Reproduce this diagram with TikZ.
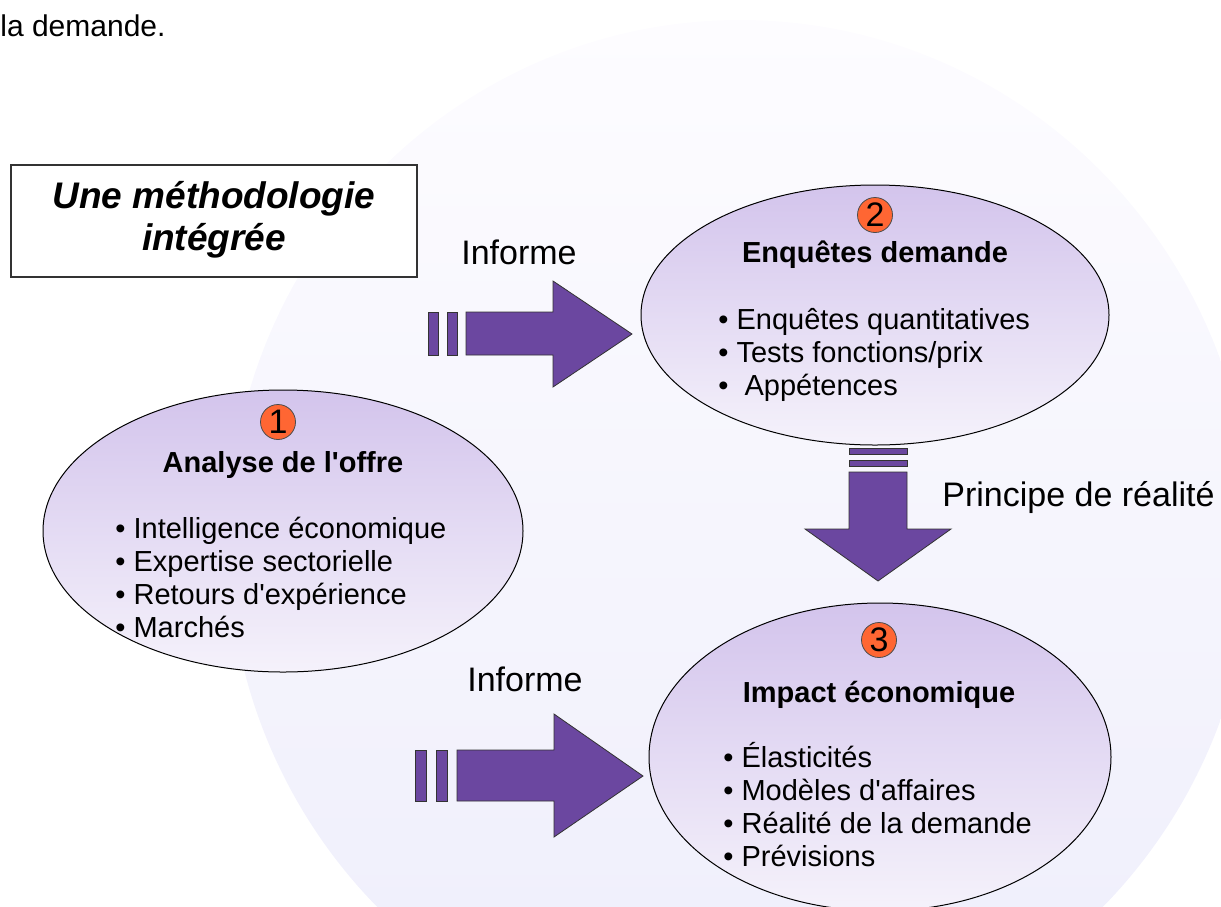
\documentclass[tikz,border=0pt]{standalone}
\usepackage{fontspec}
\setmainfont{Liberation Sans}
\usetikzlibrary{shapes,arrows,calc,positioning,backgrounds}

\definecolor{fleche}{RGB}{107,71,160}
\definecolor{orangenum}{RGB}{255,102,51}
\definecolor{mauve}{RGB}{211,196,236}
\definecolor{mauveclair}{RGB}{245,242,251}
\definecolor{fondhaut}{RGB}{253,252,255}
\definecolor{fondbas}{RGB}{238,238,251}

\begin{document}
\begin{tikzpicture}[x=0.5pt, y=-0.5pt,
  bulle/.style={ellipse, draw=black, line width=0.5pt, top color=mauve, bottom color=mauveclair, inner sep=0pt},
  rond/.style={circle, draw=black!70, fill=orangenum, minimum size=17.5pt, inner sep=0pt, font=\fontsize{17}{17}\selectfont},
  entete/.style={anchor=base, inner sep=0pt, font=\fontsize{14.5}{16.5}\selectfont\bfseries},
  puce/.style={anchor=base west, inner sep=0pt, font=\fontsize{14.5}{16.5}\selectfont},
  grand/.style={anchor=base, inner sep=0pt, font=\fontsize{17}{20}\selectfont},
  bloc/.style={fill=fleche, draw=black!80, line width=0.4pt}]

  \useasboundingbox (0,0) rectangle (1221,906);
  \clip (0,0) rectangle (1221,906);

  % fond
  \shade[top color=fondhaut, bottom color=fondbas, draw=none] (740,540) ellipse [x radius=512, y radius=520];
  \node[anchor=base west, inner sep=0pt, font=\fontsize{15}{18}\selectfont] (suite) at (0,36) {la demande.};

  % cadre
  \node[draw=black!80, line width=0.6pt, fill=white, minimum width=203pt, minimum height=56pt, inner sep=0pt] (cadre) at (214,221) {};
  \node[anchor=base, inner sep=0pt, font=\fontsize{18.5}{21}\selectfont\bfseries\itshape] (titre1) at (214,208) {Une méthodologie};
  \node[anchor=base, inner sep=0pt, font=\fontsize{18.5}{21}\selectfont\bfseries\itshape] (titre2) at (214,250) {intégrée};

  % fleches
  \draw[bloc] (428,312) rectangle (438,355);
  \draw[bloc] (447,312) rectangle (457,355);
  \draw[bloc] (466,312) -- (553,312) -- (553,281) -- (632,334) -- (553,387) -- (553,355) -- (466,355) -- cycle;
  \node[grand] (inf1) at (519,264) {Informe};

  \draw[bloc] (415,750) rectangle (426,801);
  \draw[bloc] (436,750) rectangle (447,801);
  \draw[bloc] (457,750) -- (554,750) -- (554,714) -- (643,776) -- (554,837) -- (554,801) -- (457,801) -- cycle;
  \node[grand] (inf2) at (525,691) {Informe};

  \draw[bloc] (849,448) rectangle (907,454);
  \draw[bloc] (849,460) rectangle (907,466);
  \draw[bloc] (849,472) -- (849,529) -- (805,529) -- (878,581) -- (951,529) -- (907,529) -- (907,472) -- cycle;
  \node[anchor=base west, inner sep=0pt, font=\fontsize{17}{20}\selectfont] (realite) at (942,506) {Principe de réalité};

  % C1
  \node[bulle, minimum width=240pt, minimum height=141pt] (offre) at (283,531) {};
  \node[rond] (n1) at (278,422) {1};
  \node[entete] (t1) at (283,472) {Analyse de l\textquotesingle offre};
  \foreach \t [count=\i] in {Intelligence économique, Expertise sectorielle, Retours d\textquotesingle expérience, Marchés}
    \node[puce] (a\i) at (115,538+33*\i-33) {• \t};

  % C2
  \node[bulle, minimum width=234pt, minimum height=130pt] (enquete) at (875,315) {};
  \node[rond] (n2) at (875,215) {2};
  \node[entete] (t2) at (875,262) {Enquêtes demande};
  \node[puce] (b1) at (718,329) {• Enquêtes quantitatives};
  \node[puce] (b2) at (718,362) {• Tests fonctions/prix};
  \node[puce] (b3) at (718,395) {•\ \ Appétences};

  % C3
  \node[bulle, minimum width=231pt, minimum height=154pt] (impact) at (880,757) {};
  \node[rond] (n3) at (879,640) {3};
  \node[entete] (t3) at (879,702) {Impact économique};
  \foreach \t [count=\i] in {Élasticités, Modèles d\textquotesingle affaires, Réalité de la demande, Prévisions}
    \node[puce] (c\i) at (723,767+33*\i-33) {• \t};

\end{tikzpicture}
\end{document}
